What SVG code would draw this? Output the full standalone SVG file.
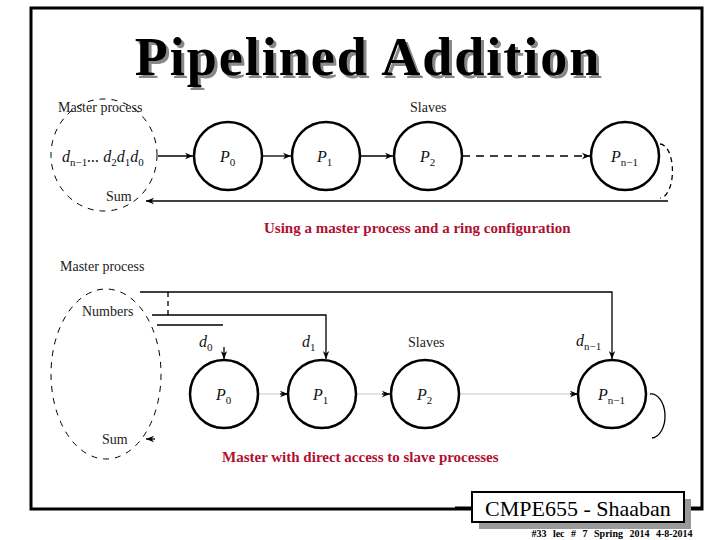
<svg xmlns="http://www.w3.org/2000/svg" width="720" height="540" viewBox="0 0 720 540">
<defs>
<marker id="ah" viewBox="0 0 10 10" refX="10" refY="5" markerWidth="8" markerHeight="8" markerUnits="userSpaceOnUse" orient="auto"><path d="M0,1 L10,5 L0,9 L3,5 z" fill="#000"/></marker>
<style>
.n{fill:#fff;stroke:#000;stroke-width:2.5}
.m{fill:none;stroke:#000;stroke-width:1;stroke-dasharray:6,6}
.l{fill:none;stroke:#000;stroke-width:1.3}
.f{fill:none;stroke:#ccc;stroke-width:1}
.t{font-family:"Liberation Serif",serif;font-size:14px;fill:#222}
.p{font-family:"Liberation Serif",serif;font-style:italic;font-size:16px;fill:#111}
.s{font-size:11px;font-style:normal}
.c{font-family:"Liberation Serif",serif;font-weight:bold;font-size:15px;fill:#b01030}
.ti{font-family:"Liberation Serif",serif;font-weight:bold;font-size:54px;letter-spacing:2px}
</style>
</defs>
<rect x="0" y="0" width="720" height="540" fill="#fff"/>
<rect x="31" y="8" width="671" height="501" fill="none" stroke="#000" stroke-width="3"/>
<text class="ti" x="371" y="78" text-anchor="middle" fill="#888">Pipelined Addition</text>
<text class="ti" x="368" y="75" text-anchor="middle" fill="#000">Pipelined Addition</text>

<g id="connectors">
<line class="l" x1="158" y1="156" x2="193" y2="156" marker-end="url(#ah)"/>
<line class="l" x1="262" y1="156" x2="291" y2="156" marker-end="url(#ah)"/>
<line class="l" x1="360" y1="156" x2="393" y2="156" marker-end="url(#ah)"/>
<line class="l" x1="462" y1="156" x2="590" y2="156" stroke-dasharray="8,6" marker-end="url(#ah)"/>
<path class="l" d="M660,144 A12,26 0 0 1 660,198" stroke-dasharray="5,4"/>
<line class="l" x1="668" y1="201" x2="146" y2="201" marker-end="url(#ah)"/>
<polyline class="l" points="140,292 612,292 612,359" marker-end="url(#ah)"/>
<polyline class="l" points="152,315 326,315 326,359" marker-end="url(#ah)"/>
<line class="l" x1="157" y1="325" x2="223" y2="325"/>
<line class="l" x1="224" y1="347" x2="224" y2="359" marker-end="url(#ah)"/>
<line class="l" x1="168" y1="292" x2="168" y2="315" stroke-dasharray="5,4"/>
<line class="f" x1="258" y1="394" x2="288" y2="394"/>
<line class="l" x1="280" y1="394" x2="288" y2="394" marker-end="url(#ah)"/>
<line class="f" x1="356" y1="394" x2="390" y2="394"/>
<line class="l" x1="382" y1="394" x2="390" y2="394" marker-end="url(#ah)"/>
<line class="f" x1="459" y1="394" x2="578" y2="394"/>
<line class="l" x1="570" y1="394" x2="578" y2="394" marker-end="url(#ah)"/>
<path class="l" d="M650,394 A14,22 0 0 1 652,438" stroke-width="1"/>
<line class="l" x1="155" y1="439" x2="146" y2="439" marker-end="url(#ah)"/>
</g>

<g id="master1"><ellipse class="m" cx="104" cy="155" rx="53" ry="56"/>
<text class="t" x="58" y="112">Master process</text>
<text class="p" x="62" y="162">d<tspan class="s" dy="4">n−1</tspan><tspan dy="-4">... d</tspan><tspan class="s" dy="4">2</tspan><tspan dy="-4">d</tspan><tspan class="s" dy="4">1</tspan><tspan dy="-4">d</tspan><tspan class="s" dy="4">0</tspan></text>
<text class="t" x="106" y="201">Sum</text></g>
<text class="t" x="410" y="112">Slaves</text>
<g id="p0a"><circle class="n" cx="228" cy="156" r="34"/><text class="p" x="220" y="162">P<tspan class="s" dy="4">0</tspan></text></g>
<g id="p1a"><circle class="n" cx="326" cy="156" r="34"/><text class="p" x="317" y="162">P<tspan class="s" dy="4">1</tspan></text></g>
<g id="p2a"><circle class="n" cx="428" cy="156" r="34"/><text class="p" x="420" y="162">P<tspan class="s" dy="4">2</tspan></text></g>
<g id="pna"><circle class="n" cx="625" cy="156" r="34"/><text class="p" x="611" y="162">P<tspan class="s" dy="4">n−1</tspan></text></g>
<text class="c" x="264" y="233">Using a master process and a ring configuration</text>

<g id="master2"><ellipse class="m" cx="106" cy="374" rx="55" ry="85"/>
<text class="t" x="60" y="271">Master process</text>
<text class="t" x="82" y="316">Numbers</text>
<text class="t" x="102" y="444">Sum</text></g>
<text class="p" x="199" y="347">d<tspan class="s" dy="4">0</tspan></text>
<text class="p" x="302" y="347">d<tspan class="s" dy="4">1</tspan></text>
<text class="p" x="576" y="346">d<tspan class="s" dy="4">n−1</tspan></text>
<text class="t" x="408" y="347">Slaves</text>
<g id="p0b"><circle class="n" cx="224" cy="394" r="34"/><text class="p" x="216" y="400">P<tspan class="s" dy="4">0</tspan></text></g>
<g id="p1b"><circle class="n" cx="322" cy="394" r="34"/><text class="p" x="313" y="400">P<tspan class="s" dy="4">1</tspan></text></g>
<g id="p2b"><circle class="n" cx="425" cy="394" r="34"/><text class="p" x="417" y="400">P<tspan class="s" dy="4">2</tspan></text></g>
<g id="pnb"><circle class="n" cx="612" cy="394" r="34"/><text class="p" x="598" y="400">P<tspan class="s" dy="4">n−1</tspan></text></g>
<text class="c" x="222" y="462">Master with direct access to slave processes</text>

<line x1="455" y1="508" x2="702" y2="508" stroke="#000" stroke-width="3"/>
<rect x="479" y="499" width="212" height="30" fill="#999"/>
<rect x="472" y="492" width="212" height="30" fill="#fff" stroke="#000" stroke-width="2"/>
<text x="578" y="516" text-anchor="middle" font-family="Liberation Serif,serif" font-size="22" fill="#000">CMPE655 - Shaaban</text>
<text x="612" y="537" text-anchor="middle" font-family="Liberation Serif,serif" font-weight="bold" font-size="10" fill="#000" word-spacing="4">#33 lec # 7 Spring 2014 4-8-2014</text>
</svg>
